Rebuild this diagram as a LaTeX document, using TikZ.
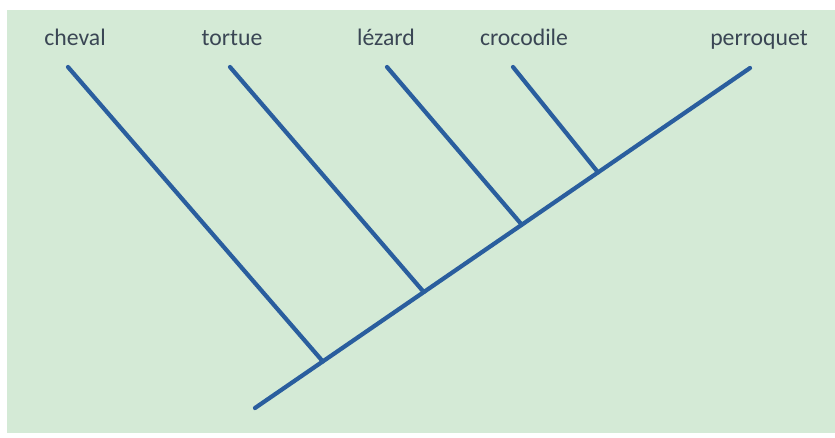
\documentclass[tikz,border=0pt]{standalone}
\usepackage{fontspec}
\setmainfont{Carlito}
\usepackage{xcolor}
\usetikzlibrary{positioning,calc}
\definecolor{fond}{RGB}{212,234,214}
\definecolor{branche}{RGB}{42,94,158}
\definecolor{texte}{RGB}{58,70,84}

\begin{document}
\begin{tikzpicture}[
    x=0.02cm, y=-0.02cm,
    espece/.style={anchor=base, text=texte, font=\fontsize{13.5}{16}\selectfont, inner sep=0pt},
    arbre/.style={draw=branche, line width=2.4pt, line cap=round}
]
\useasboundingbox (0,0) rectangle (835,437);
\fill[white] (0,0) rectangle (835,437);
\fill[fond] (7,10) rectangle (835,433);

\node[espece] (cheval) at (75,45) {cheval};
\node[espece] (tortue) at (232,45) {tortue};
\node[espece] (lezard) at (386,45) {lézard};
\node[espece] (croco)  at (524,45) {crocodile};
\node[espece] (perro)  at (759,45) {perroquet};

\coordinate (racine) at (255,408);
\coordinate (tperro) at (750,68);
\coordinate (tcheval) at (68,67);
\coordinate (ttortue) at (230,67);
\coordinate (tlezard) at (387,67);
\coordinate (tcroco) at (513,67);

\coordinate (n1) at ($(racine)!0.137!(tperro)$);
\coordinate (n2) at ($(racine)!0.341!(tperro)$);
\coordinate (n3) at ($(racine)!0.539!(tperro)$);
\coordinate (n4) at ($(racine)!0.693!(tperro)$);

\draw[arbre] (racine) -- (tperro);
\draw[arbre] (tcheval) -- (n1);
\draw[arbre] (ttortue) -- (n2);
\draw[arbre] (tlezard) -- (n3);
\draw[arbre] (tcroco) -- (n4);
\end{tikzpicture}
\end{document}
